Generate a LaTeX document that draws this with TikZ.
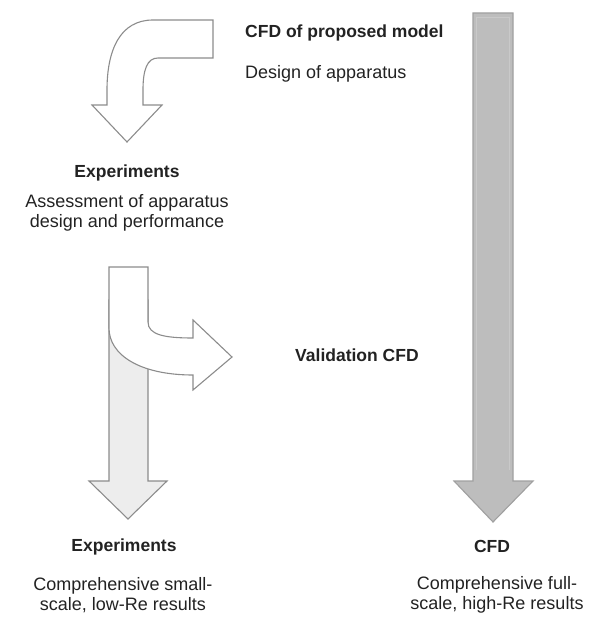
\documentclass[tikz,border=0pt]{standalone}
\usepackage{fontspec}
\setmainfont{Liberation Sans}
\usetikzlibrary{positioning}
\definecolor{arrowline}{HTML}{8C8C8C}
\definecolor{palefill}{HTML}{EDEDED}
\definecolor{cfdfill}{HTML}{BDBDBD}
\definecolor{cfdline}{HTML}{A0A0A0}
\definecolor{cfdglow}{HTML}{C9C9C9}
\definecolor{inktext}{HTML}{222222}
\begin{document}
\begin{tikzpicture}[x=1pt,y=-1pt,font=\fontsize{18}{20}\selectfont,
    every node/.style={inner sep=0pt,text=inktext},
    heading/.style={font=\fontsize{17.5}{20}\selectfont\bfseries},
    remark/.style={align=center},
    hollow/.style={draw=arrowline,line width=1.1pt,fill=white,line join=miter}]
  \useasboundingbox (0,0) rectangle (595,617);
  % long CFD arrow
  \draw[draw=cfdline,fill=cfdfill,line width=1.1pt]
    (473,13) -- (513,13) -- (513,481) -- (533,481) -- (493,522)
    -- (454,481) -- (473,481) -- cycle;
  \draw[cfdglow,line width=1pt] (476.5,470) -- (476.5,18) -- (509.5,18) -- (509.5,470);
  % curved arrow into experiments
  \draw[hollow] (213,20) -- (153,20) .. controls (120,20) and (107,50) .. (107,90)
    -- (107,105) -- (92,105) -- (127,142) -- (162,105) -- (143,105) -- (143,90)
    .. controls (143,70) and (147,58) .. (158,58) -- (213,58) -- cycle;
  % lower experiments arrow
  \draw[hollow,fill=palefill] (109,300) -- (109,481) -- (89,481) -- (128,519)
    -- (167,481) -- (148,481) -- (148,300) -- cycle;
  % branch to validation
  \draw[hollow] (109,267) -- (148,267) -- (148,322)
    .. controls (148,335) and (165,338) .. (193,338) -- (193,320) -- (232,357)
    -- (193,390) -- (193,375) .. controls (140,375) and (109,355) .. (109,328) -- cycle;
  % texts
  \node[heading,anchor=west] (cfdmodel) at (245,33) {CFD of proposed model};
  \node[anchor=west] (design) at (245,74) {Design of apparatus};
  \node[heading] (exptop) at (127,173) {Experiments};
  \node[remark] (assess) at (127,213) {Assessment of apparatus\\design and performance};
  \node[heading,anchor=west] (valid) at (295,355) {Validation CFD};
  \node[heading] (expbot) at (124,547) {Experiments};
  \node[remark] (smallres) at (123,595) {Comprehensive small-\\scale, low-Re results};
  \node[heading] (cfdbot) at (492,546) {CFD};
  \node[remark] (fullres) at (497,595) {Comprehensive full-\\scale, high-Re results};
\end{tikzpicture}
\end{document}
